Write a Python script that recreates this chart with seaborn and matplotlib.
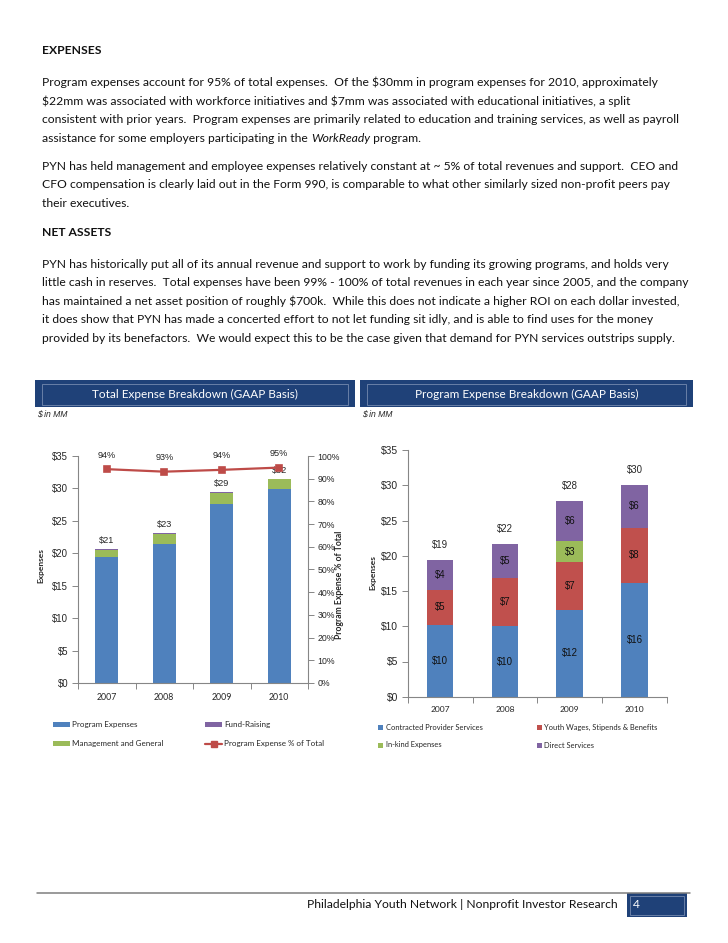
import numpy as np
import matplotlib
matplotlib.use('Agg')
import matplotlib.pyplot as plt
from matplotlib.patches import Rectangle
from matplotlib.lines import Line2D
import seaborn as sns

sns.set_style('white')
plt.rcParams['font.family'] = ['Lato', 'DejaVu Sans']

# ---------------- data ----------------
years = ['2007', '2008', '2009', '2010']

# Total expense breakdown ($MM)
program_expenses = [19.4, 21.5, 27.6, 29.9]
mgmt_general = [1.1, 1.5, 1.7, 1.5]
fund_raising = [0.1, 0.1, 0.1, 0.1]
program_pct = [94.2, 93.1, 93.9, 94.9]
left_names = ['Program Expenses', 'Management and General', 'Fund-Raising',
              'Program Expense % of Total']

# Program expense breakdown ($MM)
contracted = [10.2, 10.0, 12.3, 16.2]
youth_wages = [5.0, 6.9, 6.8, 7.8]
in_kind = [0.0, 0.0, 3.0, 0.0]
direct_services = [4.2, 4.8, 5.7, 6.1]
right_names = ['Contracted Provider Services', 'Youth Wages, Stipends & Benefits',
               'In-kind Expenses', 'Direct Services']

dollar_ticks = [0, 5, 10, 15, 20, 25, 30, 35]
pct_ticks = [0, 10, 20, 30, 40, 50, 60, 70, 80, 90, 100]

# ---------------- style ----------------
BLUE, RED, GREEN, PURPLE = '#4F81BD', '#C0504D', '#9BBB59', '#8064A2'
LINE_RED = '#BE4B48'
NAVY = '#1F4178'
NAVY_EDGE = '#7489AE'
GRAY = '#868686'
BODY = ['Lato', 'DejaVu Sans']
ARIAL = ['Liberation Sans', 'DejaVu Sans']

W, H = 728, 943


def fx(x):
    return x / W


def fy(y):
    return 1 - y / H


def esc(s):
    return s.replace('$', r'\$')


fig = plt.figure(figsize=(W / 100, H / 100), dpi=100)
renderer = fig.canvas.get_renderer()

# ---------------- body text ----------------
body_lines = [
    (82.5, "Program expenses account for 95% of total expenses.  Of the $30mm in program expenses for 2010, approximately"),
    (101, "$22mm was associated with workforce initiatives and $7mm was associated with educational initiatives, a split"),
    (119.5, "consistent with prior years.  Program expenses are primarily related to education and training services, as well as payroll"),
    (166.5, "PYN has held management and employee expenses relatively constant at ~ 5% of total revenues and support.  CEO and"),
    (185, "CFO compensation is clearly laid out in the Form 990, is comparable to what other similarly sized non-profit peers pay"),
    (203.5, "their executives."),
    (264, "PYN has historically put all of its annual revenue and support to work by funding its growing programs, and holds very"),
    (282.5, "little cash in reserves.  Total expenses have been 99% - 100% of total revenues in each year since 2005, and the company"),
    (301, "has maintained a net asset position of roughly $700k.  While this does not indicate a higher ROI on each dollar invested,"),
    (319.5, "it does show that PYN has made a concerted effort to not let funding sit idly, and is able to find uses for the money"),
    (338.5, "provided by its benefactors.  We would expect this to be the case given that demand for PYN services outstrips supply."),
]

# fit font size so the longest line spans the text column
widths = []
for _, s in body_lines:
    p = fig.text(0, 0, esc(s), fontsize=10, family=BODY)
    widths.append(p.get_window_extent(renderer).width)
    p.remove()
body_size = 10 * 646 / max(widths)

for y, s in body_lines:
    fig.text(fx(42), fy(y), esc(s), fontsize=body_size, family=BODY,
             ha='left', va='center', color='#111111')

t1 = fig.text(fx(42), fy(138), "assistance for some employers participating in the ",
              fontsize=body_size, family=BODY, ha='left', va='center', color='#111111')
x_end = t1.get_window_extent(renderer).x1
t2 = fig.text(x_end / W, fy(138), "WorkReady", fontsize=body_size, family=BODY,
              style='italic', ha='left', va='center', color='#111111')
x_end = t2.get_window_extent(renderer).x1
fig.text(x_end / W, fy(138), " program.", fontsize=body_size, family=BODY,
         ha='left', va='center', color='#111111')

fig.text(fx(42), fy(51), "EXPENSES", fontsize=body_size, family=BODY,
         weight='bold', ha='left', va='center', color='#111111')
fig.text(fx(42), fy(233), "NET ASSETS", fontsize=body_size, family=BODY,
         weight='bold', ha='left', va='center', color='#111111')

# ---------------- header bars ----------------
for x0, x1, title in [(35, 355, "Total Expense Breakdown (GAAP Basis)"),
                      (360, 693, "Program Expense Breakdown (GAAP Basis)")]:
    fig.add_artist(Rectangle((fx(x0), fy(407)), (x1 - x0) / W, 27 / H,
                             transform=fig.transFigure, fc=NAVY, ec='none'))
    fig.add_artist(Rectangle((fx(x0 + 7), fy(404.5)), (x1 - x0 - 14) / W, 21 / H,
                             transform=fig.transFigure, fill=False, ec=NAVY_EDGE, lw=0.6))
    fig.text(fx((x0 + x1) / 2), fy(394), title, color='white', fontsize=body_size * 0.97,
             family=BODY, ha='center', va='center')
    fig.text(fx(x0 + 2), fy(414), esc("$ in MM"), style='italic', fontsize=6.2,
             family=ARIAL, ha='left', va='center')


def stack(ax, series, colors, width):
    bottom = np.zeros(len(years))
    for vals, col in zip(series, colors):
        sns.barplot(x=years, y=vals, bottom=bottom.copy(), color=col, width=width,
                    saturation=1, errorbar=None, linewidth=0, ax=ax)
        bottom += np.array(vals)
    return bottom


def style_axes(ax, tick_size, label_size):
    ax.set_xlim(-0.5, len(years) - 0.5)
    ax.set_xticks(range(len(years)))
    ax.set_xticklabels(years, fontsize=label_size, family=BODY)
    ax.set_xticks(np.arange(-0.5, len(years), 1), minor=True)
    ax.tick_params(axis='x', which='major', length=0, pad=7)
    ax.tick_params(axis='x', which='minor', bottom=True, length=4, width=0.7,
                   color=GRAY, direction='out')
    ax.set_ylim(0, 35)
    ax.set_yticks(dollar_ticks)
    ax.set_yticklabels([esc(f"${v}") for v in dollar_ticks], fontsize=tick_size, family=ARIAL)
    ax.tick_params(axis='y', left=True, length=4, width=0.7, color=GRAY,
                   direction='out', pad=3)
    for side in ['top', 'right']:
        ax.spines[side].set_visible(False)
    for side in ['left', 'bottom']:
        ax.spines[side].set_color(GRAY)
        ax.spines[side].set_linewidth(0.8)
    ax.set_xlabel('')
    ax.set_ylabel('')


# ---------------- left chart ----------------
ax1 = fig.add_axes([fx(78), fy(683), (308 - 78) / W, (683 - 456) / H])
totals_left = stack(ax1, [program_expenses, mgmt_general, fund_raising],
                    [BLUE, GREEN, PURPLE], 0.4)
ax1.bar_label(ax1.containers[-1], labels=[esc(f"${t:.0f}") for t in totals_left],
              padding=3, fontsize=6.6, family=ARIAL)

ax2 = ax1.twinx()
sns.pointplot(x=years, y=program_pct, color=LINE_RED, markers='s', linestyles='-',
              errorbar=None, markersize=4.5, linewidth=1.6, ax=ax2)
for i, p in enumerate(program_pct):
    ax2.annotate(f"{p:.0f}%", xy=(i, p), xytext=(0, 10), textcoords='offset points',
                 ha='center', va='center', fontsize=6.6, family=ARIAL)
ax2.set_ylim(0, 100)
ax2.set_yticks(pct_ticks)
ax2.set_yticklabels([f"{v}%" for v in pct_ticks], fontsize=6.3, family=ARIAL)
ax2.tick_params(axis='y', right=True, length=4, width=0.7, color=GRAY,
                direction='out', pad=3)
for side in ['top', 'left', 'bottom']:
    ax2.spines[side].set_visible(False)
ax2.spines['right'].set_color(GRAY)
ax2.spines['right'].set_linewidth(0.8)
ax2.set_ylabel('')
ax2.set_xlabel('')

style_axes(ax1, 6.9, 6.3)

fig.text(fx(41), fy(566), "Expenses", rotation=90, weight='bold', fontsize=6,
         family=BODY, ha='center', va='center')
fig.text(fx(339), fy(585), "Program Expense % of Total", rotation=90, weight='bold',
         fontsize=6.2, family=BODY, ha='center', va='center')

# left legend
for (x, y), name, col in zip([(53, 724), (53, 743.5), (205, 724)], left_names[:3],
                             [BLUE, GREEN, PURPLE]):
    fig.add_artist(Rectangle((fx(x), fy(y + 2.5)), 17 / W, 5 / H,
                             transform=fig.transFigure, fc=col, ec='none'))
    fig.text(fx(x + 19), fy(y), name, fontsize=5.8, family=BODY, ha='left', va='center')
fig.add_artist(Line2D([fx(205), fx(222)], [fy(743.5)] * 2, color=LINE_RED, lw=1.6,
                      transform=fig.transFigure))
fig.add_artist(Line2D([fx(213.5)], [fy(743.5)], color=LINE_RED, marker='s',
                      markersize=4, transform=fig.transFigure))
fig.text(fx(224), fy(743.5), left_names[3], fontsize=5.8, family=BODY,
         ha='left', va='center')

# ---------------- right chart ----------------
ax3 = fig.add_axes([fx(407.7), fy(696.7), (667 - 407.7) / W, (696.7 - 450.3) / H])
series_right = [contracted, youth_wages, in_kind, direct_services]
totals_right = stack(ax3, series_right, [BLUE, RED, GREEN, PURPLE], 0.41)
for cont, vals in zip(ax3.containers, series_right):
    ax3.bar_label(cont, labels=[esc(f"${v:.0f}") if v > 0 else '' for v in vals],
                  label_type='center', fontsize=6.9, family=ARIAL, color='#111111')
ax3.bar_label(ax3.containers[-1], labels=[esc(f"${t:.0f}") for t in totals_right],
              padding=7, fontsize=6.9, family=ARIAL)
style_axes(ax3, 7.4, 6.1)

fig.text(fx(373), fy(573), "Expenses", rotation=90, weight='bold', fontsize=6,
         family=BODY, ha='center', va='center')

for (x, y), name, col in zip([(378, 727), (536.5, 727), (378, 745), (536.5, 745)],
                             right_names, [BLUE, RED, GREEN, PURPLE]):
    fig.add_artist(Rectangle((fx(x), fy(y + 2.5)), 5 / W, 5 / H,
                             transform=fig.transFigure, fc=col, ec='none'))
    fig.text(fx(x + 8), fy(y), esc(name), fontsize=5.4, family=BODY,
             ha='left', va='center')

# ---------------- footer ----------------
fig.add_artist(Line2D([fx(37), fx(690)], [fy(892.5)] * 2, color='#7F7F7F', lw=1.1,
                      transform=fig.transFigure))
fig.text(fx(618), fy(905), "Philadelphia Youth Network | Nonprofit Investor Research",
         fontsize=body_size, family=BODY, ha='right', va='center', color='#111111')
fig.add_artist(Rectangle((fx(627), fy(917)), 60 / W, 24 / H,
                         transform=fig.transFigure, fc=NAVY, ec='none'))
fig.add_artist(Rectangle((fx(630), fy(914.5)), 54 / W, 19 / H,
                         transform=fig.transFigure, fill=False, ec=NAVY_EDGE, lw=0.6))
fig.text(fx(633), fy(905), "4", color='white', fontsize=body_size, family=BODY,
         ha='left', va='center')

fig.savefig('out.png', dpi=100, facecolor='white')
